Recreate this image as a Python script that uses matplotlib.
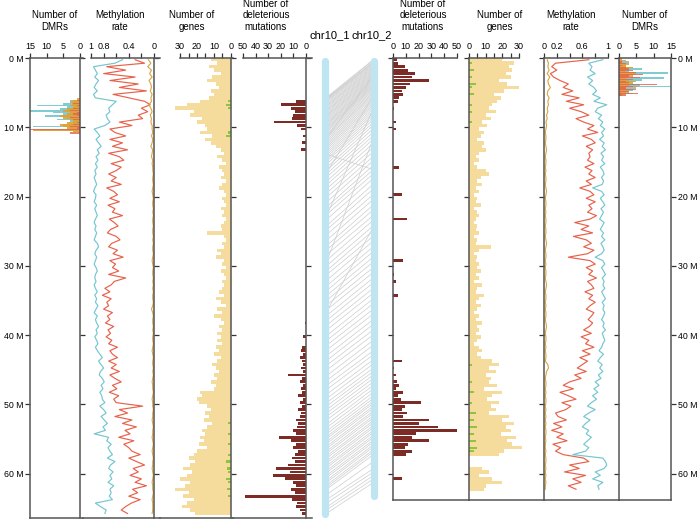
import numpy as np
import matplotlib
matplotlib.use("Agg")
import matplotlib.pyplot as plt

plt.rcParams['font.family'] = ['Liberation Sans', 'DejaVu Sans']

#  Canvas (pixels)
W, H = 698, 520
BIN = 0.5  # Mb per bin for genes / methylation
LEN1, LEN2 = 66.4, 63.8  # Mb shown for chr10_1, chr10_2

#  chr10_1 (left) ------------------------------------------------------------
met1_cg = [0.50, 0.62,
           0.96, 0.93, 0.90, 0.94, 0.88, 0.92, 0.95, 0.90, 0.96, 0.93,
           0.60, 0.66, 0.72, 0.70, 0.76, 0.74, 0.70, 0.78,
           0.95, 0.90, 0.86, 0.92, 0.88, 0.84, 0.90, 0.87, 0.92, 0.89, 0.93, 0.90,
           0.94, 0.92, 0.95, 0.93, 0.91, 0.94, 0.96, 0.92, 0.93, 0.95, 0.91, 0.94,
           0.92, 0.90, 0.93, 0.95, 0.92, 0.94, 0.91, 0.93, 0.95, 0.90, 0.88, 0.92,
           0.94, 0.91, 0.93, 0.95, 0.92, 0.90, 0.93, 0.94, 0.92, 0.95,
           0.93, 0.90, 0.94, 0.91, 0.93, 0.89, 0.92, 0.95, 0.90, 0.93, 0.91, 0.88,
           0.92, 0.90, 0.94, 0.91, 0.89, 0.93, 0.90,
           0.86, 0.82, 0.88, 0.84, 0.80, 0.85, 0.87, 0.82, 0.79, 0.84, 0.81, 0.86, 0.83,
           0.82, 0.78, 0.86, 0.80, 0.76, 0.84, 0.79, 0.74, 0.81, 0.77, 0.95,
           0.72, 0.75, 0.68, 0.73, 0.70, 0.66, 0.74, 0.62, 0.69, 0.72, 0.65, 0.70,
           0.67, 0.73, 0.64, 0.70, 0.68, 0.71, 0.66,
           0.93, 0.85, 0.76, 0.78]
met1_chg = [0.30, 0.15,
            0.75, 0.45, 0.80, 0.30, 0.70, 0.25, 0.55, 0.12, 0.65, 0.40,
            0.15, 0.06, 0.20, 0.10, 0.25, 0.18,
            0.55, 0.35, 0.70,
            0.62, 0.45, 0.70, 0.50, 0.66, 0.42, 0.72, 0.55, 0.48, 0.68, 0.52, 0.60,
            0.72, 0.60, 0.68, 0.52, 0.75, 0.64, 0.58, 0.70, 0.55, 0.73, 0.62, 0.66,
            0.50, 0.71, 0.63, 0.57, 0.69, 0.74, 0.60, 0.54, 0.67, 0.72, 0.58, 0.65,
            0.49, 0.70, 0.61, 0.66, 0.56, 0.72, 0.45, 0.63, 0.68,
            0.78, 0.70, 0.82, 0.68, 0.75, 0.72, 0.80, 0.66, 0.74, 0.70, 0.77, 0.64,
            0.73, 0.69, 0.76, 0.67, 0.72, 0.58, 0.70,
            0.66, 0.58, 0.72, 0.60, 0.68, 0.55, 0.70, 0.62, 0.52, 0.66, 0.59, 0.71,
            0.56, 0.64, 0.60,
            0.18, 0.55, 0.42, 0.62, 0.35, 0.50, 0.28, 0.46, 0.38, 0.56, 0.32, 0.48, 0.40,
            0.35, 0.22, 0.40, 0.28, 0.15, 0.33, 0.25, 0.38, 0.20, 0.30, 0.12, 0.34,
            0.26, 0.40, 0.22, 0.36, 0.45, 0.52, 0.42]
met1_chh = [0.09, 0.05, 0.10, 0.04, 0.07, 0.03, 0.08, 0.05, 0.04, 0.06,
            0.03, 0.05, 0.04, 0.08, 0.05, 0.03, 0.06, 0.04, 0.05, 0.03,
            0.03, 0.02, 0.04, 0.02, 0.03, 0.05, 0.02, 0.03, 0.04, 0.02,
            0.03, 0.02, 0.02, 0.01, 0.02, 0.02, 0.01, 0.02, 0.03, 0.02,
            0.01, 0.02, 0.02, 0.01, 0.02, 0.01, 0.02, 0.02, 0.01, 0.02,
            0.02, 0.01, 0.02, 0.01, 0.02, 0.02, 0.01, 0.02, 0.03, 0.02,
            0.01, 0.02, 0.02, 0.01, 0.02, 0.01, 0.02, 0.01, 0.02, 0.02,
            0.01, 0.02, 0.04, 0.02, 0.01, 0.02, 0.02, 0.01, 0.02, 0.01,
            0.02, 0.02, 0.01, 0.02, 0.03, 0.02, 0.01, 0.02, 0.02, 0.01,
            0.02, 0.01, 0.02, 0.03, 0.02, 0.02, 0.01, 0.02, 0.03, 0.02,
            0.02, 0.01, 0.02, 0.02, 0.03, 0.02, 0.01, 0.02, 0.02, 0.03,
            0.02, 0.01, 0.02, 0.03, 0.02, 0.01, 0.02, 0.02, 0.03, 0.02,
            0.01, 0.02, 0.03, 0.02, 0.02, 0.01, 0.02, 0.03, 0.02, 0.02,
            0.02, 0.03]
genes1 = [12, 8, 13, 10, 6, 11, 14, 9, 7, 12, 10, 13,
          18, 26, 33, 22, 24, 17, 20, 15,
          14, 18, 11, 15, 12, 9,
          6, 4, 8, 5, 3, 7, 5, 4, 6, 3, 5, 7, 4, 3,
          5, 4, 3, 6, 4, 5, 3, 4, 6, 5, 14, 4,
          3, 5, 4, 8, 6, 9, 4, 5, 3, 6, 4, 3, 5, 4,
          5, 7, 4, 9, 6, 3, 8, 5, 10, 6, 4, 7, 5, 8,
          6, 8, 5, 9, 7, 10, 6, 8, 11, 9, 7, 10, 8, 12, 9, 10,
          18, 17, 20, 19, 14, 12, 15, 13, 16, 11, 14, 17, 15, 18, 16, 19, 14, 20,
          22, 25, 21, 24, 28, 23, 26, 30, 24, 27, 33, 25, 28, 22, 26, 29, 24, 21]
green1_pos = [6.25, 6.75, 7.25, 10.75, 11.25, 52.75, 54.25, 55.75, 57.25, 58.25,
              59.25, 59.75, 60.75, 61.25, 62.25, 63.25]
green1_val = [2, 3, 2, 2, 3, 1.5, 2, 1.5, 2, 3, 2.5, 2, 3, 2, 2.5, 2]
del1_pos = [6.25, 6.75, 7.25, 7.75, 8.25, 8.75, 9.25, 9.75, 10.25, 11.25, 12.25, 13.25,
            38.25, 40.25, 41.75, 42.25, 42.75, 43.25, 43.75, 44.25, 44.75,
            45.25, 45.75, 46.25, 46.75, 47.25, 47.75, 48.25, 48.75, 49.25, 49.75, 50.25,
            50.75, 51.25, 51.75, 52.25, 52.75, 53.25, 53.75, 54.25, 54.75,
            55.25, 55.75, 56.25, 56.75, 57.25, 57.75, 58.25, 58.75, 59.25, 59.75, 60.25,
            60.75, 61.25, 61.75, 62.25, 62.75, 63.25, 63.75, 64.25, 64.75, 65.25, 65.75]
del1_val = [8, 20, 12, 9, 10, 11, 25, 7, 4, 2, 3, 4,
            1, 2, 3, 4, 2, 5, 3, 2, 4,
            2, 14, 3, 5, 2, 4, 3, 6, 2, 5, 3,
            6, 4, 5, 8, 6, 7, 10, 8, 21,
            12, 8, 10, 6, 9, 11, 9, 14, 24, 13, 26,
            17, 10, 8, 12, 9, 48, 11, 7, 8, 5, 3]
dmr1_pos = [5.75, 6.0, 6.25, 6.5, 6.75, 7.0, 7.25, 7.5, 7.75, 8.0, 8.25,
            8.5, 8.75, 9.0, 9.25, 9.5, 9.75, 10.0, 10.25, 10.5, 10.75]
dmr1_hypo = [1, 2, 3, 2.5, 3, 2, 4, 5, 3, 4, 6, 5, 3, 2, 4, 6, 5, 4, 14, 2, 0]
dmr1_cg = [0, 3, 2, 5, 13, 4, 6, 15.5, 8, 5, 10.5, 4, 7, 3, 2, 5, 14, 3, 12, 0, 0]
dmr1_chg = [0, 1, 0, 2, 1, 0, 2, 3, 1, 2, 1, 3, 2, 0, 1, 2, 3, 1, 15, 0, 3]

#  chr10_2 (right) -----------------------------------------------------------
met2_cg = [0.92,
           0.70, 0.75, 0.72, 0.80, 0.68, 0.76, 0.70, 0.78,
           0.82, 0.76, 0.88, 0.78, 0.98, 0.84, 0.80, 0.90, 0.85,
           0.92, 0.88, 0.95, 0.90, 0.93, 0.87, 0.94, 0.91, 0.96, 0.89,
           0.93, 0.90, 0.95, 0.88, 0.92, 0.94, 0.90, 0.93, 0.91, 0.76,
           0.90, 0.94, 0.88, 0.92, 0.95, 0.89, 0.93, 0.90, 0.87, 0.94,
           0.91, 0.88, 0.93, 0.90, 0.95, 0.89, 0.92, 0.94, 0.90,
           0.80,
           0.92, 0.95, 0.90, 0.93, 0.96, 0.91, 0.94, 0.92, 0.95, 0.90,
           0.93, 0.96, 0.91, 0.94, 0.92, 0.95, 0.93, 0.90, 0.94, 0.92,
           0.96, 0.91, 0.93, 0.95, 0.92,
           0.90, 0.86, 0.93, 0.88, 0.84, 0.91, 0.87, 0.92, 0.85, 0.89,
           0.80, 0.86, 0.78, 0.84, 0.76, 0.82,
           0.74, 0.68, 0.80, 0.70, 0.62, 0.72, 0.65, 0.60, 0.70, 0.66,
           0.74, 0.68, 0.62, 0.70, 0.65,
           0.45,
           0.92, 0.96, 0.98, 0.94,
           0.80, 0.88, 0.76, 0.92, 0.84, 0.86]
met2_chg = [0.70, 0.18,
            0.12, 0.20, 0.10, 0.15,
            0.25, 0.38, 0.30,
            0.45, 0.28, 0.55, 0.35, 0.62, 0.40,
            0.58, 0.70, 0.50,
            0.62, 0.78, 0.68, 0.84, 0.60, 0.74, 0.80, 0.66, 0.76, 0.70,
            0.72, 0.68, 0.78, 0.64, 0.75, 0.70, 0.80, 0.66, 0.74, 0.56,
            0.72, 0.78, 0.66, 0.80, 0.70, 0.75, 0.68, 0.82, 0.72,
            0.48, 0.70, 0.58, 0.76, 0.46, 0.66, 0.74, 0.62, 0.78, 0.68,
            0.38,
            0.72, 0.80, 0.66, 0.76, 0.70, 0.82, 0.68, 0.74, 0.78, 0.64,
            0.76, 0.70, 0.80, 0.72, 0.66, 0.78, 0.74, 0.69, 0.76, 0.71,
            0.62, 0.74, 0.58, 0.70, 0.65, 0.78, 0.60, 0.72, 0.56, 0.68,
            0.60, 0.52, 0.66, 0.48, 0.58,
            0.40, 0.30, 0.46, 0.25, 0.38, 0.50, 0.28, 0.42, 0.34, 0.18,
            0.22, 0.35, 0.15, 0.28, 0.12, 0.30, 0.20, 0.36, 0.14, 0.26, 0.18, 0.30,
            0.62, 0.70,
            0.40, 0.55, 0.32, 0.65, 0.45, 0.58, 0.38, 0.50]
met2_chh = [0.05, 0.07, 0.06, 0.08, 0.05, 0.09, 0.06, 0.07, 0.10, 0.06,
            0.05, 0.08, 0.06, 0.07, 0.05, 0.06, 0.04, 0.05, 0.03, 0.04,
            0.03, 0.02, 0.03, 0.03, 0.02, 0.03, 0.04, 0.03, 0.02, 0.03,
            0.03, 0.02, 0.03, 0.02, 0.03, 0.03, 0.02, 0.03, 0.04, 0.03,
            0.02, 0.03, 0.03, 0.02, 0.03, 0.02, 0.03, 0.03, 0.02, 0.03,
            0.03, 0.02, 0.03, 0.04, 0.03, 0.02, 0.03, 0.03, 0.02, 0.03,
            0.02, 0.03, 0.03, 0.02, 0.03, 0.04, 0.03, 0.02, 0.03, 0.03,
            0.02, 0.03, 0.02, 0.03, 0.03, 0.02, 0.03, 0.04, 0.03, 0.02,
            0.03, 0.03, 0.02, 0.03, 0.02, 0.03, 0.03, 0.02, 0.06, 0.07,
            0.04, 0.03, 0.02, 0.03, 0.03, 0.02, 0.03, 0.02, 0.03, 0.03,
            0.02, 0.03, 0.02, 0.03, 0.02, 0.03, 0.02, 0.03, 0.03, 0.02,
            0.03, 0.02, 0.02, 0.03, 0.02, 0.03, 0.03, 0.02, 0.03, 0.02,
            0.03, 0.02, 0.03, 0.02, 0.02]
genes2 = [20, 27, 24, 26, 22, 25, 18, 23, 30, 21, 15, 19, 17,
          14, 12, 16, 10, 13,
          8, 11, 6, 9, 7, 5,
          9, 8, 10, 6,
          4, 6, 3, 5, 10, 12, 7, 5, 8, 4,
          6, 3, 5, 4, 7, 3, 5, 6, 4, 3, 5, 4, 6, 3, 5, 4, 13, 6, 3, 5, 4, 6,
          5, 7, 4, 6, 3, 8, 5, 4, 9, 6, 4, 7, 5, 3, 6, 4, 8, 5, 6, 4, 7, 5, 3, 6, 8, 5, 7,
          14, 18, 12, 16, 10, 13,
          12, 17, 9, 20, 14, 11, 18, 13, 16, 12,
          24, 20, 27, 22, 25, 19, 28, 23, 26, 32, 21, 18,
          0, 0, 0,
          8, 12, 6, 14, 20, 10, 9]
green2_pos = [0.75, 1.75, 2.75, 3.75, 4.25, 5.25, 6.75, 7.75, 9.25, 44.25,
              46.75, 48.25, 49.75, 51.25, 52.25, 53.25, 54.25, 55.25, 56.25, 56.75]
green2_val = [2, 3, 2, 4, 2, 3, 2, 2, 1.5, 2, 2, 3, 2, 4, 3, 5, 3, 4, 5, 3]
del2_pos = [0.25, 0.75, 1.25, 1.75, 2.25, 2.75, 3.25, 3.75, 4.25, 4.75, 5.25, 5.75,
            6.25, 7.25, 9.25, 10.25, 15.75, 19.75, 23.25, 29.25, 31.25, 32.25, 34.25,
            43.75, 44.75, 45.75, 46.75, 47.25, 47.75, 48.25, 48.75, 49.25, 49.75,
            50.25, 50.75, 51.25, 51.75, 52.25, 52.75, 53.25, 53.75, 54.25, 54.75,
            55.25, 55.75, 56.25, 56.75, 57.25, 60.75]
del2_val = [3, 4, 9, 12, 17, 15, 28, 13, 10, 7, 8, 5,
            4, 1, 2, 2, 5, 7, 11, 8, 1, 2, 4,
            7, 1, 2, 3, 5, 2, 8, 4, 6, 22,
            9, 7, 11, 8, 28, 20, 35, 50, 18, 15,
            28, 12, 9, 15, 10, 7]
dmr2_pos = [0.0, 0.25, 0.5, 0.75, 1.0, 1.25, 1.5, 1.75, 2.0, 2.25, 2.5, 2.75,
            3.0, 3.25, 3.5, 3.75, 4.0, 4.25, 4.5, 4.75, 5.0, 5.25, 5.5]
dmr2_hypo = [1, 2, 1, 3, 2, 4, 3, 2, 5, 3, 4, 2, 3, 5, 4, 3, 5.5, 2, 3, 2, 4, 1, 0]
dmr2_cg = [0, 1, 3, 2, 2, 4, 6.5, 3, 14, 5, 3, 13, 6.5, 4, 3, 6, 16, 5, 4, 3, 2, 1, 0]
dmr2_chg = [0, 0, 1, 2, 1, 2, 3, 4, 5, 7, 3, 6, 4, 2, 3, 11, 4, 2, 5, 3, 5.5, 2, 0]

#  Collinear anchors: position on chr10_2 and on chr10_1 (Mb)
link_chr2 = [0.5, 0.8, 1.0, 1.3, 1.6, 1.9, 2.2, 2.5, 2.8, 3.1, 3.4, 3.7, 4.0, 4.3,
             4.6, 5.0, 5.4, 5.8, 6.3, 6.8, 7.3, 7.9, 8.5, 9.2, 10.0, 11.0, 12.0,
             13.2, 14.5, 15.8, 17.0, 18.5, 20.0, 21.5, 23.0, 24.5, 26.0, 27.5, 29.0,
             30.5, 32.0, 33.5, 35.0, 36.5, 38.0, 39.5, 41.0, 42.5, 43.8, 45.0, 46.0,
             47.0, 48.0, 49.0, 49.8, 50.5, 51.2, 51.9, 52.6, 53.3, 54.0, 54.7, 55.4,
             56.1, 56.8, 57.5, 59.5, 60.5, 61.5, 8.0, 12.5, 16.0, 25.0, 3.0, 6.0,
             0.6, 0.9, 1.15, 1.45, 1.75, 2.05, 2.35, 2.65, 2.95, 3.25,
             3.55, 3.85, 4.15, 4.45, 4.8, 5.2, 5.6, 6.05, 6.55, 7.05,
             7.6, 8.2, 8.85, 9.6, 10.5, 11.5, 12.6, 13.8, 15.1, 16.4,
             17.7, 19.2, 20.7, 22.2, 23.7, 25.2, 26.7, 28.2, 29.7, 31.2,
             32.7, 34.2, 35.7, 37.2, 38.7, 40.2, 41.7, 43.1, 44.4, 45.5,
             46.5, 47.5, 48.5, 49.4, 50.1, 50.8, 51.5, 52.2, 52.9, 53.6,
             54.3, 55.0, 55.7, 56.4, 57.1, 58.5, 60.0, 61.0]
link_chr1 = [5.4, 5.6, 5.8, 6.1, 6.5, 6.8, 7.2, 7.5, 7.9, 8.2, 8.6, 9.0, 9.3, 9.7,
             10.0, 10.4, 10.9, 11.3, 11.8, 12.3, 12.8, 13.4, 14.0, 14.6, 15.5, 16.4,
             17.5, 18.6, 19.8, 21.2, 22.3, 23.9, 25.2, 26.8, 28.1, 29.7, 31.0, 32.6,
             34.0, 35.4, 36.9, 38.3, 39.8, 41.2, 42.7, 44.1, 45.6, 47.0, 48.3, 49.5,
             50.5, 51.5, 52.6, 53.6, 54.4, 55.1, 55.8, 56.5, 57.2, 57.9, 58.6, 59.3,
             60.0, 60.7, 61.4, 62.0, 63.5, 64.6, 65.5, 22.0, 28.5, 14.0, 36.0, 11.0, 16.0,
             5.5, 5.7, 5.95, 6.3, 6.65, 7.0, 7.35, 7.7, 8.05, 8.4,
             8.8, 9.15, 9.5, 9.85, 10.2, 10.65, 11.1, 11.55, 12.05, 12.55,
             13.1, 13.7, 14.3, 15.0, 15.9, 16.9, 18.0, 19.2, 20.5, 21.7,
             23.0, 24.5, 26.0, 27.4, 28.9, 30.4, 31.8, 33.3, 34.7, 36.1,
             37.6, 39.0, 40.5, 41.9, 43.4, 44.8, 46.3, 47.6, 48.9, 50.0,
             51.0, 52.0, 53.1, 54.0, 54.7, 55.4, 56.1, 56.8, 57.5, 58.2,
             58.9, 59.6, 60.3, 61.0, 61.7, 62.8, 64.0, 65.0]

#  Colours
C_CG, C_CHG, C_CHH = '#74c6cf', '#e8614b', '#d9a43a'
C_GENE, C_GREEN, C_DEL = '#f6dc9c', '#8cc63f', '#7c2c24'
C_SPINE = '#555555'


fig = plt.figure(figsize=(W / 100, H / 100), dpi=100)


def px_axes(x0, x1, y0, y1):
    return fig.add_axes([x0 / W, 1 - y1 / H, (x1 - x0) / W, (y1 - y0) / H])


def setup(ax, xlim, ylen, side, bounds, ticks, labels):
    ax.set_xlim(*xlim)
    ax.set_ylim(ylen, 0)
    ax.set_yticks(range(0, 70, 10))
    for s in ax.spines.values():
        s.set_color(C_SPINE)
        s.set_linewidth(1.1)
    ax.spines['top'].set_bounds(*bounds)
    if side == 'left':
        ax.spines['right'].set_position(('data', 0))
        ax.spines['left'].set_visible(False)
        ax.yaxis.set_ticks_position('right')
    else:
        ax.spines['left'].set_position(('data', 0))
        ax.spines['right'].set_visible(False)
        ax.yaxis.set_ticks_position('left')
    ax.xaxis.set_ticks_position('top')
    ax.set_xticks(ticks)
    ax.set_xticklabels(labels)
    ax.tick_params(direction='out', length=3.6, width=0.9, color='#333333',
                   labelsize=6.5, pad=1.2)
    ax.tick_params(axis='y', labelleft=False, labelright=False)
    ax.set_facecolor('none')


def centers(vals):
    return np.arange(len(vals)) * BIN + BIN / 2


def draw_met(ax, cg, chg, chh):
    ax.plot(cg, centers(cg), color=C_CG, lw=0.85)
    ax.plot(chg, centers(chg), color=C_CHG, lw=0.85)
    ax.plot(chh, centers(chh), color=C_CHH, lw=0.8)


def draw_genes(ax, genes, gpos, gval):
    ax.barh(centers(genes), genes, height=BIN, color=C_GENE, lw=0)
    ax.barh(gpos, gval, height=0.3, color=C_GREEN, lw=0)


def draw_dmr(ax, pos, hypo, cg, chg):
    ax.barh(pos, cg, height=0.25, align='edge', color=C_CG, alpha=0.9, lw=0)
    ax.barh(pos, hypo, height=0.25, align='edge', color='#e3a030', alpha=0.9, lw=0)
    ax.barh(pos, chg, height=0.18, align='edge', color=C_CHG, alpha=0.8, lw=0)


mlabels = ['{} M'.format(v) for v in range(0, 70, 10)]

#  Left panels (chr10_1), value axes run right-to-left
ax = px_axes(30, 83, 58, 518)
setup(ax, (15, -0.9), LEN1, 'left', (-0.9, 15), [0, 5, 10, 15], ['0', '5', '10', '15'])
ax.spines['left'].set_visible(True)
ax.yaxis.set_ticks_position('both')
ax.tick_params(axis='y', labelleft=True, labelsize=6.3)
ax.set_yticklabels(mlabels)
draw_dmr(ax, dmr1_pos, dmr1_hypo, dmr1_cg, dmr1_chg)

ax = px_axes(83, 160, 58, 518)
setup(ax, (1.127, -0.095), LEN1, 'left', (-0.095, 1),
      [0, 0.2, 0.4, 0.6, 0.8, 1], ['0', '', '0.4', '', '0.8', '1'])
draw_met(ax, met1_cg, met1_chg, met1_chh)

ax = px_axes(160, 233, 58, 518)
setup(ax, (41.8, -1.2), LEN1, 'left', (-1.2, 30), range(0, 35, 5),
      ['0', '', '10', '', '20', '', '30'])
draw_genes(ax, genes1, green1_pos, green1_val)

ax = px_axes(233, 312, 58, 518)
setup(ax, (57.9, -4.8), LEN1, 'left', (-4.8, 50), range(0, 60, 10),
      ['0', '10', '20', '30', '40', '50'])
ax.barh(del1_pos, del1_val, height=0.4, color=C_DEL, lw=0)

#  Right panels (chr10_2)
ax = px_axes(393, 469, 58, 500)
setup(ax, (0, 59.4), LEN2, 'right', (0, 50), range(0, 60, 10),
      ['0', '10', '20', '30', '40', '50'])
ax.barh(del2_pos, del2_val, height=0.4, color=C_DEL, lw=0)

ax = px_axes(469, 544, 58, 500)
setup(ax, (0, 45), LEN2, 'right', (0, 30), range(0, 35, 5),
      ['0', '', '10', '', '20', '', '30'])
draw_genes(ax, genes2, green2_pos, green2_val)

ax = px_axes(544, 619, 58, 500)
setup(ax, (0, 1.172), LEN2, 'right', (0, 1),
      [0, 0.2, 0.4, 0.6, 0.8, 1], ['0', '0.2', '', '0.6', '', '1'])
draw_met(ax, met2_cg, met2_chg, met2_chh)

ax = px_axes(619, 671, 58, 500)
setup(ax, (0, 15), LEN2, 'right', (0, 15), [0, 5, 10, 15], ['0', '5', '10', '15'])
ax.spines['right'].set_visible(True)
ax.yaxis.set_ticks_position('both')
ax.tick_params(axis='y', labelright=True, labelsize=6.3)
ax.set_yticklabels(mlabels)
draw_dmr(ax, dmr2_pos, dmr2_hypo, dmr2_cg, dmr2_chg)

#  Middle: chromosomes and collinear links
mid = px_axes(312, 393, 58, 518)
mid.set_xlim(312, 393)
mid.set_ylim(LEN1, 0)
mid.axis('off')
for a, b in zip(link_chr1, link_chr2):
    mid.plot([329, 371], [a, b], color='#cdcdcd', lw=0.5, zorder=1)
mid.plot([325, 325], [0.4, LEN1 - 0.6], color='#bfe4f2', lw=5.2, solid_capstyle='round', zorder=2)
mid.plot([374, 374], [0.4, LEN2 - 0.6], color='#bfe4f2', lw=5.2, solid_capstyle='round', zorder=2)

fig.text(330 / W, 1 - 35 / H, 'chr10_1', ha='center', va='center', fontsize=8)
fig.text(372 / W, 1 - 35 / H, 'chr10_2', ha='center', va='center', fontsize=8)

#  Panel titles
titles = [(55, 'Number of\nDMRs'), (120, 'Methylation\nrate'), (192, 'Number of\ngenes'),
          (266, 'Number of\ndeleterious\nmutations'),
          (423, 'Number of\ndeleterious\nmutations'), (500, 'Number of\ngenes'),
          (571, 'Methylation\nrate'), (645, 'Number of\nDMRs')]
for x, t in titles:
    fig.text(x / W, 1 - 32 / H, t, ha='center', va='bottom', fontsize=7,
             linespacing=1.2, multialignment='center')

fig.savefig('out.png', dpi=100)
